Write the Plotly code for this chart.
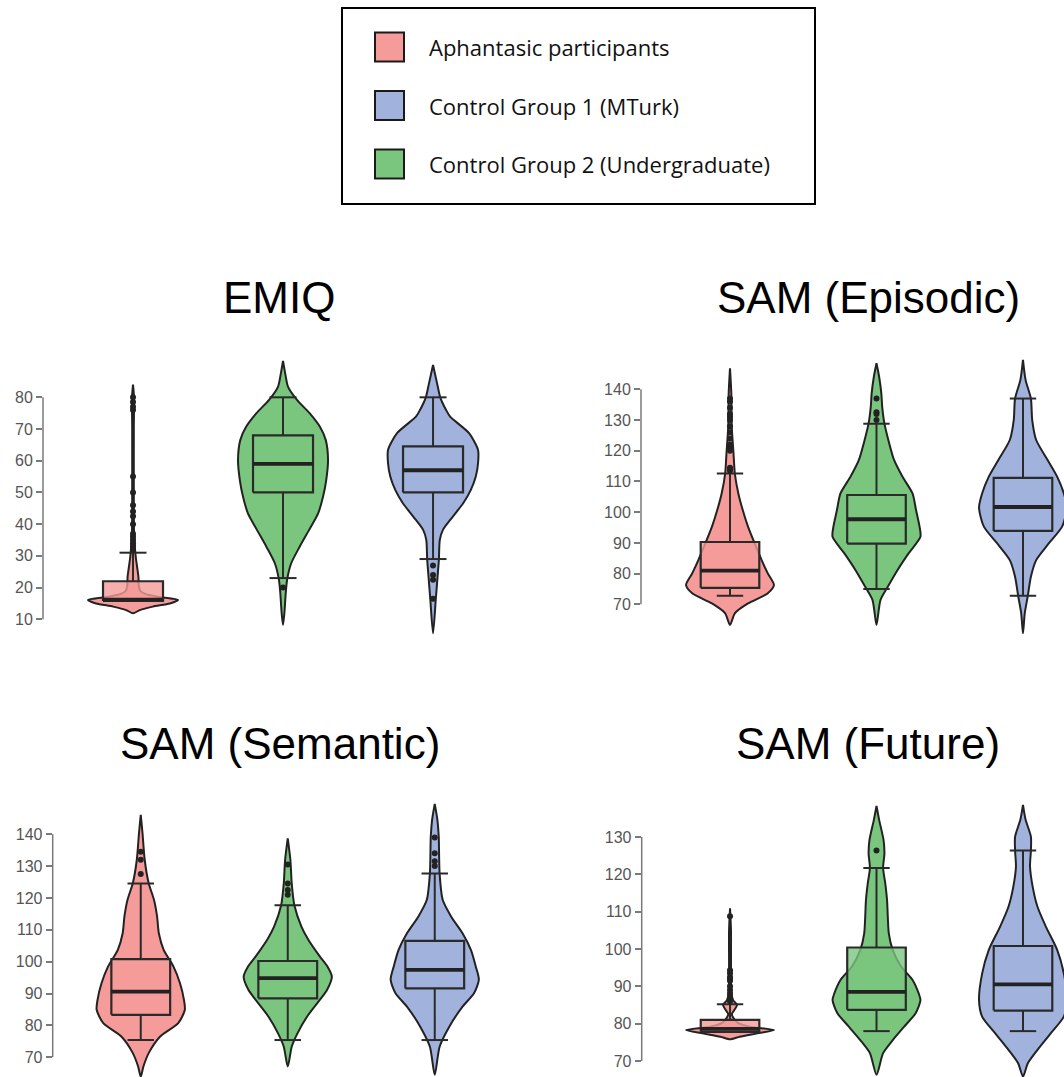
import plotly.graph_objects as go

# ---------------------------------------------------------------------------
# Groups (plot order inside each panel: aphantasic, undergraduate, MTurk)
# ---------------------------------------------------------------------------
GROUP_NAMES = ["Aphantasic participants", "Control Group 2 (Undergraduate)", "Control Group 1 (MTurk)"]
GROUP_COLORS = ["#F59B9A", "#7BC67E", "#A1B3DD"]
LEGEND_ORDER = ["Aphantasic participants", "Control Group 1 (MTurk)", "Control Group 2 (Undergraduate)"]

PANEL_TITLES = ["EMIQ", "SAM (Episodic)", "SAM (Semantic)", "SAM (Future)"]

# ---------------------------------------------------------------------------
# EMIQ
# ---------------------------------------------------------------------------
EMIQ_TICKS = [10, 20, 30, 40, 50, 60, 70, 80]
EMIQ_LOWER = [15.8, 23, 29]
EMIQ_Q1 = [15.8, 50, 50]
EMIQ_MEDIAN = [16.2, 59, 57]
EMIQ_Q3 = [22, 68, 64.5]
EMIQ_UPPER = [31, 80, 80]
EMIQ_OUTLIERS = [
    [32, 33, 34, 35, 36, 37, 40, 42.5, 44, 46, 50, 55, 76, 77, 78.5, 80],
    [20],
    [27, 24, 22.5, 16.5],
]
EMIQ_VIOLIN_Y = [
    [11.9, 12.9, 14.0, 15.0, 16.1, 17.1, 18.0, 19.0, 20.5, 23.5, 26.6, 29.8, 33, 38, 50, 70, 80, 84],
    [8.2, 11.9, 18.2, 22.4, 27.6, 32.9, 38.2, 43.4, 48.7, 53.9, 60.2, 66.5, 70.7, 75, 79.2, 83.4, 87, 91.5],
    [5.6, 16.1, 23.4, 28.9, 35, 38.2, 42.4, 46.6, 50.8, 55, 59.2, 63.4, 68.7, 73.9, 76, 80, 84.4, 90.2],
]
EMIQ_VIOLIN_DENSITY = [
    [0, 0.15, 0.44, 0.82, 1.0, 0.55, 0.27, 0.16, 0.13, 0.12, 0.09, 0.06, 0.04, 0.022, 0.018, 0.018, 0.022, 0],
    [0, 0.03, 0.06, 0.09, 0.18, 0.37, 0.58, 0.78, 0.89, 0.96, 1.0, 0.95, 0.82, 0.59, 0.31, 0.11, 0.055, 0],
    [0, 0.06, 0.10, 0.13, 0.15, 0.22, 0.44, 0.67, 0.84, 0.95, 1.0, 1.0, 0.8, 0.38, 0.29, 0.16, 0.09, 0],
]

# ---------------------------------------------------------------------------
# SAM (Episodic)
# ---------------------------------------------------------------------------
EPI_TICKS = [70, 80, 90, 100, 110, 120, 130, 140]
EPI_LOWER = [72.8, 75.0, 72.8]
EPI_Q1 = [75.4, 89.8, 93.9]
EPI_MEDIAN = [81.0, 97.7, 101.7]
EPI_Q3 = [90.3, 105.6, 111.2]
EPI_UPPER = [112.6, 128.8, 137.0]
EPI_OUTLIERS = [
    [113.5, 114, 114.5, 120, 121, 122, 124, 126, 128, 130, 131, 132, 134, 136, 137],
    [130, 132, 132.5, 137],
    [],
]
EPI_VIOLIN_Y = [
    [63.3, 67.1, 70.3, 73.6, 76.3, 80.1, 84.4, 89.9, 95.3, 100.7, 106.1, 112.6, 119.2, 127.8, 138.7, 146.8],
    [63.3, 71.4, 75.8, 81.2, 86.6, 92, 95.3, 100.7, 106.1, 111.6, 117, 122.4, 128.9, 134.4, 138.7, 144.1, 148.5],
    [60.6, 67.1, 72.8, 79, 84.4, 89.9, 95.3, 101.5, 106.1, 111.5, 117, 123.5, 130, 137, 143, 149.6],
]
EPI_VIOLIN_DENSITY = [
    [0, 0.11, 0.41, 0.86, 1.0, 0.86, 0.72, 0.56, 0.41, 0.29, 0.19, 0.11, 0.08, 0.04, 0.03, 0],
    [0, 0.09, 0.26, 0.48, 0.73, 1.0, 0.98, 0.9, 0.82, 0.59, 0.4, 0.29, 0.18, 0.13, 0.11, 0.06, 0],
    [0, 0.04, 0.11, 0.18, 0.3, 0.59, 0.89, 1.0, 0.93, 0.78, 0.56, 0.3, 0.21, 0.18, 0.06, 0],
]

# ---------------------------------------------------------------------------
# SAM (Semantic)
# ---------------------------------------------------------------------------
SEM_TICKS = [70, 80, 90, 100, 110, 120, 130, 140]
SEM_LOWER = [75.4, 75.4, 75.4]
SEM_Q1 = [83.3, 88.5, 91.6]
SEM_MEDIAN = [90.6, 94.8, 97.4]
SEM_Q3 = [100.8, 100.2, 106.5]
SEM_UPPER = [124.5, 117.7, 127.7]
SEM_OUTLIERS = [
    [127.5, 132, 134.5],
    [121, 122.5, 124.5, 130.5],
    [130, 131.5, 134, 139],
]
SEM_VIOLIN_Y = [
    [63.9, 67.1, 71.3, 76.5, 80.7, 84.9, 88, 93.2, 98.5, 103.7, 108.9, 114.2, 119.4, 124.6, 131.9, 140.3, 146.1],
    [67.1, 73.3, 77.5, 82.8, 87, 91.1, 95.3, 98.5, 101.6, 106.8, 111, 117.7, 124.6, 131.9, 138.7],
    [64.5, 73.3, 79.6, 85.9, 90.1, 94.3, 98.5, 103.7, 108.9, 114.2, 119.4, 127.7, 139.3, 144.5, 149.5],
]
SEM_VIOLIN_DENSITY = [
    [0, 0.06, 0.18, 0.44, 0.85, 1.0, 0.98, 0.89, 0.74, 0.52, 0.41, 0.37, 0.3, 0.18, 0.09, 0.04, 0],
    [0, 0.09, 0.22, 0.44, 0.67, 0.89, 1.0, 0.9, 0.73, 0.47, 0.31, 0.15, 0.09, 0.06, 0],
    [0, 0.11, 0.33, 0.63, 0.89, 1.0, 0.93, 0.82, 0.63, 0.37, 0.18, 0.11, 0.09, 0.06, 0],
]

# ---------------------------------------------------------------------------
# SAM (Future)
# ---------------------------------------------------------------------------
FUT_TICKS = [70, 80, 90, 100, 110, 120, 130]
FUT_LOWER = [77.8, 78.0, 78.0]
FUT_Q1 = [77.8, 83.7, 83.5]
FUT_MEDIAN = [78.6, 88.5, 90.5]
FUT_Q3 = [81.0, 100.4, 100.8]
FUT_UPPER = [85.2, 121.7, 126.4]
FUT_OUTLIERS = [
    [86, 87, 88, 89, 90, 91.5, 92, 92.5, 93.5, 94.3, 108.8],
    [126.4],
    [],
]
FUT_VIOLIN_Y = [
    [75.8, 76.5, 77.4, 78.3, 79.2, 80.2, 81, 82.5, 83.5, 85, 86.3, 88, 95, 105, 110.9],
    [66.3, 72.1, 75.6, 79.2, 82.8, 86.3, 88.1, 91.7, 95.3, 99.7, 104.2, 113.1, 117.5, 121.7, 125.6, 129.2, 134.6, 138.3],
    [65.8, 69.4, 73, 77.4, 81.9, 86.3, 93.4, 99.7, 106, 111.3, 116.7, 122.1, 126.4, 130.1, 134.6, 138.6],
]
FUT_VIOLIN_DENSITY = [
    [0, 0.22, 0.62, 1.0, 0.44, 0.18, 0.11, 0.04, 0.09, 0.16, 0.07, 0.033, 0.022, 0.022, 0],
    [0, 0.15, 0.37, 0.63, 0.89, 1.0, 0.96, 0.82, 0.56, 0.37, 0.28, 0.24, 0.2, 0.15, 0.18, 0.16, 0.06, 0],
    [0, 0.11, 0.33, 0.63, 0.93, 1.0, 0.93, 0.78, 0.52, 0.33, 0.22, 0.16, 0.18, 0.18, 0.06, 0],
]

# ---------------------------------------------------------------------------
# Page geometry (pixels) and styling
# ---------------------------------------------------------------------------
W, H = 1064, 1077
VIOLIN_HALF = 0.3      # half-width of a violin at its widest, in category units
BOX_HALF = 0.2         # half-width of a box
CAP_HALF = 0.09        # half-width of a whisker cap
OUTLINE = "#222222"
BOX_LINE = "#2a2a2a"
AXIS_GREY = "#7a7a7a"
TICK_FONT = dict(family="Liberation Sans, Arial, sans-serif", size=16, color="#555555")
TITLE_FONT = dict(family="Liberation Sans, Arial, sans-serif", size=44, color="black")
LEGEND_FONT = dict(family="Open Sans, Noto Sans, sans-serif", size=22, color="#111111")


def px_x(p):
    return p / W


def px_y(p):
    return 1 - p / H


def rgba(hex_color, a):
    h = hex_color.lstrip("#")
    r, g, b = int(h[0:2], 16), int(h[2:4], 16), int(h[4:6], 16)
    return f"rgba({r},{g},{b},{a})"


# subplot frames: left/right pixel edges, top/bottom pixel edges, x range, y range
PANELS = [
    dict(title=PANEL_TITLES[0], ticks=EMIQ_TICKS, lower=EMIQ_LOWER, q1=EMIQ_Q1, med=EMIQ_MEDIAN,
         q3=EMIQ_Q3, upper=EMIQ_UPPER, out=EMIQ_OUTLIERS, vy=EMIQ_VIOLIN_Y, vd=EMIQ_VIOLIN_DENSITY,
         px=(43, 540), py=(345, 640), xr=(-0.6, 2.713), yr=(3.47, 96.5), tx=279, ty=298),
    dict(title=PANEL_TITLES[1], ticks=EPI_TICKS, lower=EPI_LOWER, q1=EPI_Q1, med=EPI_MEDIAN,
         q3=EPI_Q3, upper=EPI_UPPER, out=EPI_OUTLIERS, vy=EPI_VIOLIN_Y, vd=EPI_VIOLIN_DENSITY,
         px=(641, 1064), py=(350, 640), xr=(-0.6075, 2.280), yr=(58.4, 152.8), tx=868, ty=298),
    dict(title=PANEL_TITLES[2], ticks=SEM_TICKS, lower=SEM_LOWER, q1=SEM_Q1, med=SEM_MEDIAN,
         q3=SEM_Q3, upper=SEM_UPPER, out=SEM_OUTLIERS, vy=SEM_VIOLIN_Y, vd=SEM_VIOLIN_DENSITY,
         px=(52.7, 540), py=(795, 1077), xr=(-0.599, 2.716), yr=(63.8, 152.3), tx=280, ty=743),
    dict(title=PANEL_TITLES[3], ticks=FUT_TICKS, lower=FUT_LOWER, q1=FUT_Q1, med=FUT_MEDIAN,
         q3=FUT_Q3, upper=FUT_UPPER, out=FUT_OUTLIERS, vy=FUT_VIOLIN_Y, vd=FUT_VIOLIN_DENSITY,
         px=(641.7, 1064), py=(795, 1077), xr=(-0.603, 2.280), yr=(65.71, 141.25), tx=868, ty=743),
]

fig = go.Figure()
shapes = []
annotations = []
layout_axes = {}


def add_line(xs, ys, width, xa, ya, color=BOX_LINE):
    fig.add_trace(go.Scatter(x=xs, y=ys, mode="lines", line=dict(color=color, width=width),
                             hoverinfo="skip", showlegend=False, xaxis=xa, yaxis=ya))


for i, p in enumerate(PANELS):
    n = "" if i == 0 else str(i + 1)
    xa, ya = "x" + n, "y" + n
    for g in range(3):
        pos = g
        col = GROUP_COLORS[g]
        levels = p["vy"][g]
        dens = p["vd"][g]
        q1, med, q3 = p["q1"][g], p["med"][g], p["q3"][g]
        lo, hi = p["lower"][g], p["upper"][g]

        # violin outline: up the right side, back down the left side
        xs = [pos + d * VIOLIN_HALF for d in dens] + [pos - d * VIOLIN_HALF for d in dens[::-1]]
        ys = list(levels) + list(levels[::-1])
        fig.add_trace(go.Scatter(
            x=xs, y=ys, mode="lines", fill="toself", fillcolor=col,
            line=dict(color=OUTLINE, width=2, shape="spline", smoothing=0.7),
            hoverinfo="skip", showlegend=False, xaxis=xa, yaxis=ya))

        # whiskers with caps
        add_line([pos, pos], [q3, hi], 2, xa, ya)
        add_line([pos, pos], [lo, q1], 2, xa, ya)
        add_line([pos - CAP_HALF, pos + CAP_HALF], [hi, hi], 2, xa, ya)
        if lo < q1:
            add_line([pos - CAP_HALF, pos + CAP_HALF], [lo, lo], 2, xa, ya)

        # interquartile box
        fig.add_trace(go.Scatter(
            x=[pos - BOX_HALF, pos + BOX_HALF, pos + BOX_HALF, pos - BOX_HALF, pos - BOX_HALF],
            y=[q1, q1, q3, q3, q1], mode="lines", fill="toself", fillcolor=rgba(col, 0.8),
            line=dict(color=BOX_LINE, width=2.2),
            hoverinfo="skip", showlegend=False, xaxis=xa, yaxis=ya))

        # heavier median bar
        add_line([pos - BOX_HALF, pos + BOX_HALF], [med, med], 3.8, xa, ya, "#222222")

        # outliers
        if p["out"][g]:
            fig.add_trace(go.Scatter(
                x=[pos] * len(p["out"][g]), y=p["out"][g], mode="markers",
                marker=dict(size=6, color="#222222"),
                hoverinfo="skip", showlegend=False, xaxis=xa, yaxis=ya))

    layout_axes["xaxis" + n] = dict(
        domain=[px_x(p["px"][0]), px_x(p["px"][1])], range=list(p["xr"]),
        visible=False, anchor=ya, fixedrange=True)
    layout_axes["yaxis" + n] = dict(
        domain=[px_y(p["py"][1]), px_y(p["py"][0])], range=list(p["yr"]),
        tickvals=p["ticks"], ticks="outside", ticklen=6, tickwidth=1.5, tickcolor=AXIS_GREY,
        showline=False, showgrid=False, zeroline=False, tickfont=TICK_FONT,
        anchor=xa, fixedrange=True)
    # trimmed spine running from the first to the last tick
    shapes.append(dict(type="line", xref=xa + " domain", yref=ya, x0=0, x1=0,
                       y0=p["ticks"][0], y1=p["ticks"][-1],
                       line=dict(color=AXIS_GREY, width=1.5)))
    annotations.append(dict(text=p["title"], xref="paper", yref="paper",
                            x=px_x(p["tx"]), y=px_y(p["ty"]), xanchor="center", yanchor="middle",
                            showarrow=False, font=TITLE_FONT))

# legend box drawn on the page
shapes.append(dict(type="rect", xref="paper", yref="paper",
                   x0=px_x(342), x1=px_x(815), y0=px_y(204), y1=px_y(8),
                   line=dict(color="black", width=2), fillcolor="white"))
for k, name in enumerate(LEGEND_ORDER):
    col = GROUP_COLORS[GROUP_NAMES.index(name)]
    cy = 47 + k * 58.5
    shapes.append(dict(type="rect", xref="paper", yref="paper",
                       x0=px_x(375), x1=px_x(404), y0=px_y(cy + 14.5), y1=px_y(cy - 14.5),
                       line=dict(color="#1a1a1a", width=2), fillcolor=col))
    annotations.append(dict(text=name, xref="paper", yref="paper",
                            x=px_x(427), y=px_y(cy), xanchor="left", yanchor="middle",
                            showarrow=False, font=LEGEND_FONT))

fig.update_layout(
    width=W, height=H,
    margin=dict(l=0, r=0, t=0, b=0),
    paper_bgcolor="white", plot_bgcolor="white",
    showlegend=False,
    shapes=shapes, annotations=annotations,
    **layout_axes,
)

fig.write_html("out.html")
